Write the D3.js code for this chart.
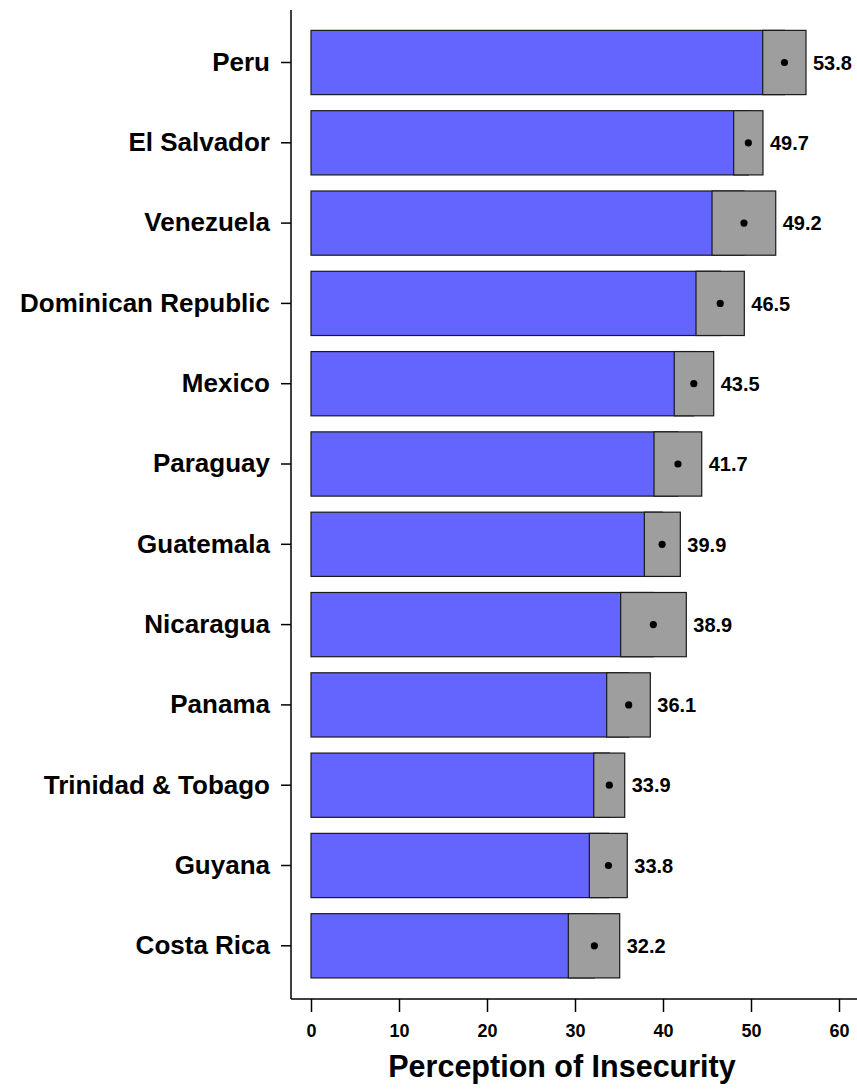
<!DOCTYPE html>
<html>
<head>
<meta charset="utf-8">
<script src="https://cdn.jsdelivr.net/npm/d3@7"></script>
<style>
  html, body { margin: 0; padding: 0; background: #fff; }
  svg { display: block; font-family: "Liberation Sans", Arial, sans-serif; font-weight: bold; }
</style>
</head>
<body>
<div id="chart"></div>
<script>
const countries = ["Peru", "El Salvador", "Venezuela", "Dominican Republic", "Mexico", "Paraguay",
  "Guatemala", "Nicaragua", "Panama", "Trinidad & Tobago", "Guyana", "Costa Rica"];
const means = [53.8, 49.7, 49.2, 46.5, 43.5, 41.7, 39.9, 38.9, 36.1, 33.9, 33.8, 32.2];
const lower = [51.33, 48.03, 45.57, 43.75, 41.28, 38.98, 37.88, 35.19, 33.6, 32.13, 31.63, 29.24];
const upper = [56.25, 51.36, 52.81, 49.24, 45.76, 44.4, 41.97, 42.65, 38.56, 35.65, 35.94, 35.08];
const xTicks = [0, 10, 20, 30, 40, 50, 60];
const xTitle = "Perception of Insecurity";

const W = 857, H = 1092;
const svg = d3.select("#chart").append("svg").attr("width", W).attr("height", H);

const x = d3.scaleLinear().domain([0, 60]).range([311, 839]);
const y = d3.scaleBand().domain(countries).range([22.35, 985.95]).paddingInner(0.2).paddingOuter(0.1);

const rows = countries.map((c, i) => ({ c, m: means[i], lo: lower[i], hi: upper[i] }));

// blue bars (0 to the mean; the CI box is drawn over the end)
svg.append("g").selectAll("rect").data(rows).join("rect")
  .attr("x", x(0))
  .attr("y", d => y(d.c))
  .attr("width", d => x(d.m) - x(0))
  .attr("height", y.bandwidth())
  .attr("fill", "#6464ff")
  .attr("stroke", "#1a1a1a")
  .attr("stroke-width", 1.2);

// gray CI boxes
svg.append("g").selectAll("rect").data(rows).join("rect")
  .attr("x", d => x(d.lo))
  .attr("y", d => y(d.c))
  .attr("width", d => x(d.hi) - x(d.lo))
  .attr("height", y.bandwidth())
  .attr("fill", "#9e9e9e")
  .attr("stroke", "#1a1a1a")
  .attr("stroke-width", 1.2);

// mean dots
svg.append("g").selectAll("circle").data(rows).join("circle")
  .attr("cx", d => x(d.m))
  .attr("cy", d => y(d.c) + y.bandwidth() / 2)
  .attr("r", 3.6)
  .attr("fill", "#000");

// value labels
svg.append("g").selectAll("text").data(rows).join("text")
  .attr("x", d => x(d.hi) + 7)
  .attr("y", d => y(d.c) + y.bandwidth() / 2)
  .attr("dy", "0.36em")
  .attr("font-size", 20)
  .attr("fill", "#000")
  .text(d => d.m.toFixed(1));

// y axis
const yAxisG = svg.append("g").attr("transform", "translate(291,0)");
yAxisG.call(d3.axisLeft(y).tickSize(10).tickPadding(11));
yAxisG.select(".domain").attr("d", "M0,10V999").attr("stroke", "#000").attr("stroke-width", 1.5);
yAxisG.selectAll(".tick line").attr("stroke", "#000").attr("stroke-width", 1.5);
yAxisG.selectAll(".tick text").attr("font-size", 26).attr("font-weight", "bold")
  .attr("font-family", "Liberation Sans, Arial, sans-serif").attr("fill", "#000");

// x axis
const xAxisG = svg.append("g").attr("transform", "translate(0,999)");
xAxisG.call(d3.axisBottom(x).tickValues(xTicks).tickSize(13).tickPadding(12).tickFormat(d3.format("d")));
xAxisG.select(".domain").attr("d", "M291,0H857").attr("stroke", "#000").attr("stroke-width", 1.5);
xAxisG.selectAll(".tick line").attr("stroke", "#000").attr("stroke-width", 1.5);
xAxisG.selectAll(".tick text").attr("font-size", 18).attr("font-weight", "bold")
  .attr("font-family", "Liberation Sans, Arial, sans-serif").attr("fill", "#000");

// x title
svg.append("text")
  .attr("x", 562)
  .attr("y", 1077)
  .attr("text-anchor", "middle")
  .attr("font-size", 30.5)
  .attr("fill", "#000")
  .text(xTitle);
</script>
</body>
</html>
